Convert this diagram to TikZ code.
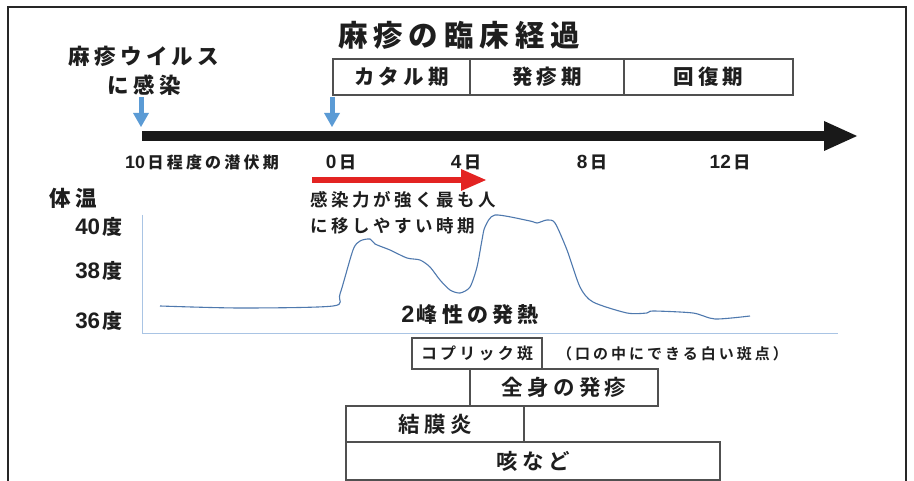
\documentclass[tikz,border=0pt]{standalone}
\usepackage{fontspec}
\usetikzlibrary{arrows.meta}
\newfontfamily\jpb{Noto Sans CJK JP Black}[LetterSpace=20]
\newfontfamily\jpm{Noto Sans CJK JP Bold}[LetterSpace=20]
\newfontfamily\digf{Liberation Sans}[Scale=1.12]
\newcommand\nd[1]{{\digf\bfseries #1}\kern2.5pt}
\newcommand\fsz[1]{\fontsize{#1}{#1}\selectfont}
\definecolor{txt}{HTML}{1E1E1E}
\definecolor{boxc}{HTML}{505050}
\definecolor{axblue}{HTML}{A9C4E4}
\definecolor{curveblue}{HTML}{4F79AE}
\definecolor{arrblue}{HTML}{5B9BD5}
\definecolor{arrred}{HTML}{E32322}
\tikzset{
  lbl/.style={inner sep=0pt, text=txt},
  phase/.style={draw=boxc, line width=1.2pt, inner sep=0pt, minimum height=36pt, text=txt, font=\jpb\fsz{20.5}},
  sym/.style={draw=boxc, line width=1.2pt, inner sep=0pt, text=txt},
  bluearr/.style={arrblue, line width=5pt, -{Triangle[length=14pt, width=16pt, line width=0pt]}},
}
\begin{document}
\begin{tikzpicture}[x=1pt,y=-1pt]
\useasboundingbox (0,0) rectangle (914,481);
\fill[white] (0,0) rectangle (914,481);
% frame
\draw[line width=2.5pt, black!85] (8,482) -- (8,7) -- (906,7) -- (906,482);
% title
\node[lbl, font=\jpb\fsz{29.5}] (title) at (459,35) {麻疹の臨床経過};
% phase boxes
\node[phase, minimum width=137pt] (catarrh) at (401.5,77) {カタル期};
\node[phase, minimum width=154pt] (eruptive) at (547,77) {発疹期};
\node[phase, minimum width=169pt] (recovery) at (708.5,77) {回復期};
% infection label
\node[lbl, font=\jpb\fsz{21.5}] (infect1) at (144,56) {麻疹ウイルス};
\node[lbl, font=\jpb\fsz{21.5}] (infect2) at (144,85) {に感染};
% blue arrows
\coordinate (b1s) at (141,97);
\coordinate (b1e) at (141,127);
\coordinate (b2s) at (332,97);
\coordinate (b2e) at (332,127);
\draw[bluearr] (b1s) -- (b1e);
\draw[bluearr] (b2s) -- (b2e);
% time axis
\coordinate (axS) at (142,136);
\coordinate (axE) at (857,136);
\draw[black!90, line width=10pt, -{Triangle[length=33pt, width=30pt, line width=0pt]}] (axS) -- (axE);
% axis labels
\node[lbl, font=\jpb\fsz{16}] (incub) at (202,162) {\nd{10}日程度の潜伏期};
\node[lbl, font=\jpb\fsz{17}] (d0) at (341,162) {\nd{0}日};
\node[lbl, font=\jpb\fsz{17}] (d4) at (466,162) {\nd{4}日};
\node[lbl, font=\jpb\fsz{17}] (d8) at (592,162) {\nd{8}日};
\node[lbl, font=\jpb\fsz{17}] (d12) at (730,162) {\nd{12}日};
% red arrow
\coordinate (rs) at (312,180);
\coordinate (re) at (486,180);
\draw[arrred, line width=6pt, -{Triangle[length=25pt, width=22pt, line width=0pt]}] (rs) -- (re);
\node[lbl, font=\jpm\fsz{17.5}, anchor=west] (inf1) at (310,200) {感染力が強く最も人};
\node[lbl, font=\jpm\fsz{17.5}, anchor=west] (inf2) at (310,226) {に移しやすい時期};
% temperature axis labels
\node[lbl, font=\jpb\fsz{21.5}] (taion) at (73,198) {体温};
\node[lbl, font=\jpb\fsz{20}] (t40) at (99,227) {\nd{40}度};
\node[lbl, font=\jpb\fsz{20}] (t38) at (99,271) {\nd{38}度};
\node[lbl, font=\jpb\fsz{20}] (t36) at (99,321) {\nd{36}度};
% chart axes
\coordinate (origin) at (142,334);
\coordinate (ytop) at (142,215);
\coordinate (xend) at (838,334);
\draw[axblue, line width=1pt] (ytop) -- (origin) -- (xend);
% temperature curve
\draw[curveblue, line width=1.1pt, line join=round] plot[smooth, tension=0.45] coordinates {
(160,306) (240,308) (333,306) (340,294) (353,250) (360,241) (370,239) (375,244) (390,250) (407,258) (420,260) (430,267) (440,280) (450,290) (460,293) (470,287) (477,267) (482,240) (485,227) (495,215) (530,221) (537,223) (547,220) (555,223) (567,250) (580,287) (593,302) (627,313) (647,313) (653,311) (693,313) (715,319) (750,316)};
\node[lbl, font=\jpb\fsz{21}] (biphasic) at (470,315) {\nd{2}峰性の発熱};
% symptom boxes
\node[sym, minimum width=130pt, minimum height=31pt, font=\jpm\fsz{16}] (koplik) at (477,353.5) {コプリック斑};
\node[lbl, font=\jpm\fsz{15}, anchor=west] (koplikNote) at (557,354) {（口の中にできる白い斑点）};
\node[sym, minimum width=188pt, minimum height=37pt, font=\jpm\fsz{21.5}] (rash) at (564,387.5) {全身の発疹};
\node[sym, minimum width=178pt, minimum height=36pt, font=\jpm\fsz{21.5}] (conj) at (435,424) {結膜炎};
\node[sym, minimum width=374pt, minimum height=38pt, font=\jpm\fsz{21.5}] (cough) at (533,461) {咳など};
\end{tikzpicture}
\end{document}
